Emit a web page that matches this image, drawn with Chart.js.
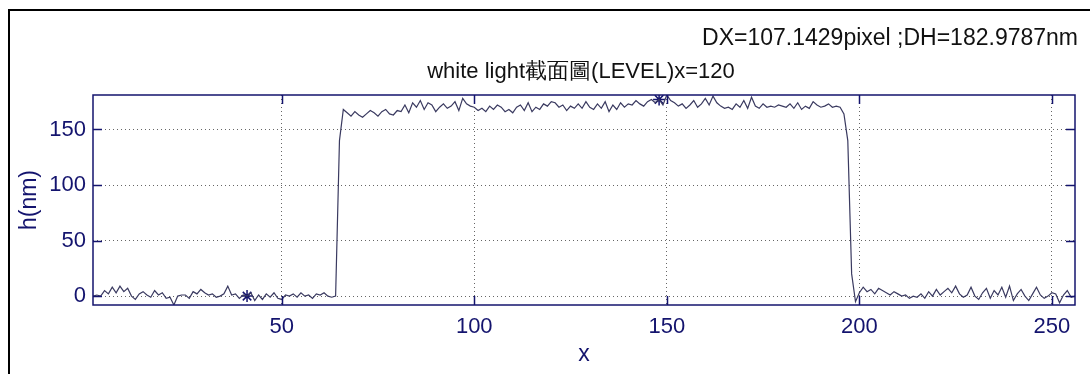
<!DOCTYPE html>
<html>
<head>
<meta charset="utf-8">
<script src="https://cdn.jsdelivr.net/npm/chart.js@4/dist/chart.umd.min.js"></script>
<style>
  html, body { margin: 0; padding: 0; background: #ffffff; }
  canvas { display: block; }
</style>
</head>
<body>
<canvas id="perfil" width="1090" height="374"></canvas>
<script>
// perfil de altura (nm) por pixel, x = 1..256
var hValues = [
    0, 1, 0, 5, 2, 8, 3, 9, 4, 7,
    0, -3, 2, 4, 1, -1, 5, 1, 3, -2,
    -1, -8, 0, 1, 1, -2, 4, 2, 6, 3,
    1, 2, -1, 0, 2, 9, 1, 2, -2, 1,
    0, 3, -4, 1, -3, 2, -1, 3, -2, -3,
    1, 0, 2, -1, 3, 0, 1, -2, 2, 1,
    3, 0, -1, 0, 140, 168, 165, 162, 166, 163,
    161, 164, 167, 165, 162, 166, 168, 164, 163, 167,
    166, 172, 165, 174, 170, 176, 168, 174, 172, 166,
    170, 173, 169, 171, 175, 167, 178, 173, 171, 170,
    167, 169, 166, 171, 168, 172, 170, 166, 168, 165,
    170, 172, 167, 174, 166, 170, 168, 173, 171, 175,
    174, 170, 172, 167, 171, 169, 173, 169, 175, 170,
    168, 173, 169, 175, 166, 172, 168, 174, 170, 173,
    172, 176, 173, 171, 175, 177, 174, 177, 172, 181,
    176, 174, 171, 173, 169, 172, 176, 170, 173, 178,
    172, 180, 174, 171, 169, 170, 168, 173, 170, 176,
    169, 179, 171, 169, 173, 170, 171, 170, 172, 171,
    170, 173, 169, 174, 168, 171, 169, 175, 172, 170,
    171, 173, 170, 171, 170, 164, 140, 20, -5, 3,
    8, 4, 6, 2, 7, 5, 3, 1, 4, 2,
    0, 1, -2, 0, -1, 2, -2, 4, 0, 6,
    1, 4, 7, 3, 9, 2, -1, 1, 8, 0,
    -3, 3, 7, -2, 5, 1, 8, -1, 9, -4,
    2, 6, 0, -4, 2, 8, 1, -2, 0, 3,
    2, -6, 1, 5, -1, 0
];
var markerX = [41, 148];          // cursores (*)
var xTicks = [50, 100, 150, 200, 250];
var yTicks = [0, 50, 100, 150];

var navy = '#14146e';
var lineColor = '#3a3a60';
var fuente = '"Liberation Sans", Arial, sans-serif';

var puntos = hValues.map(function(v, i) { return { x: i + 1, y: v }; });
var marcas = markerX.map(function(x) { return { x: x, y: hValues[x - 1] }; });

// textos, marco exterior y ticks internos estilo MATLAB
var decoracion = {
    id: 'decoracion',
    beforeDraw: function(chart) {
        var c = chart.ctx;
        c.save();
        c.fillStyle = '#ffffff';
        c.fillRect(0, 0, chart.width, chart.height);
        c.strokeStyle = '#000000';
        c.lineWidth = 2;
        c.strokeRect(9, 10, 1200, 500);
        c.restore();
    },
    afterDraw: function(chart) {
        var c = chart.ctx, a = chart.chartArea;
        var xs = chart.scales.x, ys = chart.scales.y;
        c.save();
        c.strokeStyle = navy;
        c.lineWidth = 1.5;
        c.strokeRect(a.left, a.top, a.right - a.left, a.bottom - a.top);
        c.beginPath();
        xTicks.forEach(function(t) {
            var px = Math.round(xs.getPixelForValue(t)) + 0.5;
            c.moveTo(px, a.bottom); c.lineTo(px, a.bottom - 9);
            c.moveTo(px, a.top); c.lineTo(px, a.top + 9);
        });
        yTicks.forEach(function(t) {
            var py = Math.round(ys.getPixelForValue(t)) + 0.5;
            c.moveTo(a.left, py); c.lineTo(a.left + 9, py);
            c.moveTo(a.right, py); c.lineTo(a.right - 9, py);
        });
        c.stroke();
        c.fillStyle = '#111111';
        c.textBaseline = 'middle';
        c.textAlign = 'right';
        c.font = '23px ' + fuente;
        c.fillText('DX=107.1429pixel ;DH=182.9787nm', 1078, 39);
        c.textAlign = 'center';
        c.font = '22px ' + fuente;
        c.fillText('white light截面圖(LEVEL)x=120', 581, 72);
        c.restore();
    }
};

var ctx = document.getElementById('perfil').getContext('2d');
new Chart(ctx, {
    type: 'scatter',
    data: {
        datasets: [{
            data: puntos,
            showLine: true,
            borderColor: lineColor,
            borderWidth: 1.2,
            pointRadius: 0,
            tension: 0
        }, {
            data: marcas,
            showLine: false,
            pointStyle: 'star',
            pointRadius: 6,
            borderColor: navy,
            backgroundColor: navy,
            borderWidth: 1.5
        }]
    },
    options: {
        responsive: false,
        animation: false,
        layout: { padding: { top: 95, right: 15, left: 0, bottom: 0 } },
        plugins: {
            legend: { display: false },
            tooltip: { enabled: false },
            title: { display: false }
        },
        scales: {
            x: {
                type: 'linear',
                min: 1,
                max: 256,
                afterBuildTicks: function(s) { s.ticks = xTicks.map(function(v) { return { value: v }; }); },
                afterFit: function(s) { s.height = 69; },
                grid: { color: '#666666', lineWidth: 1, drawTicks: false },
                border: { display: false, dash: [1, 3] },
                ticks: {
                    color: navy,
                    padding: 9,
                    maxRotation: 0,
                    font: { family: fuente, size: 22 }
                },
                title: {
                    display: true,
                    text: 'x',
                    color: navy,
                    padding: { top: 0, bottom: 6 },
                    font: { family: fuente, size: 23 }
                }
            },
            y: {
                min: -8,
                max: 181,
                afterBuildTicks: function(s) { s.ticks = yTicks.map(function(v) { return { value: v }; }); },
                afterFit: function(s) { s.width = 93; },
                grid: { color: '#666666', lineWidth: 1, drawTicks: false },
                border: { display: false, dash: [1, 3] },
                ticks: {
                    color: navy,
                    padding: 7,
                    font: { family: fuente, size: 22 }
                },
                title: {
                    display: true,
                    text: 'h(nm)',
                    color: navy,
                    padding: { top: 16, bottom: 0 },
                    font: { family: fuente, size: 23 }
                }
            }
        }
    },
    plugins: [decoracion]
});
</script>
</body>
</html>
